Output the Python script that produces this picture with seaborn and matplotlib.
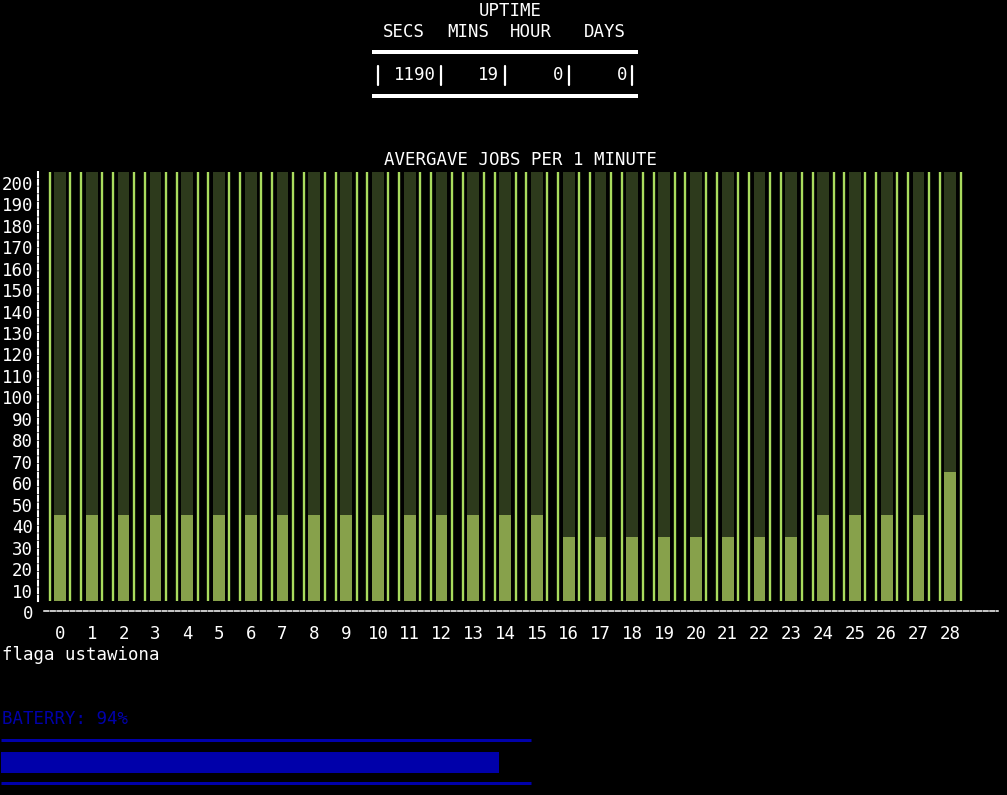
import matplotlib
matplotlib.use("Agg")
import matplotlib.pyplot as plt
import seaborn as sns
import pandas as pd
from matplotlib.lines import Line2D

W, H = 1007, 795

# --- data ---
MINUTES = [str(i) for i in range(29)]
JOBS = [45, 45, 45, 45, 45, 45, 45, 45, 45, 45, 45, 45, 45, 45, 45, 45,
        35, 35, 35, 35, 35, 35, 35, 35,
        45, 45, 45, 45, 65]
Y_TICKS = list(range(0, 201, 10))
BAR_BASE = 5
BAR_CEIL = 205

UPTIME_HEADERS = ["SECS", "MINS", "HOUR", "DAYS"]
UPTIME_VALUES = [1190, 19, 0, 0]
BATTERY = 94
FLAG_TEXT = "flaga ustawiona"

DARK = "#2d3a1c"
LIGHT = "#87a14b"
LIME = "#a9db5e"
BLUE = "#0000aa"
FS = 12.5

sns.set_theme(style="ticks", rc={
    "axes.facecolor": "black",
    "figure.facecolor": "black",
    "text.color": "white",
    "xtick.color": "white",
    "ytick.color": "white",
    "axes.edgecolor": "white",
})
plt.rcParams["font.family"] = ["DejaVu Sans Mono"]


def fx(x):
    return x / W


def fy(y):
    return 1 - y / H


def hline(x0, x1, y, color, lw):
    fig.add_artist(Line2D([fx(x0), fx(x1)], [fy(y), fy(y)], color=color,
                          lw=lw * 0.72, transform=fig.transFigure,
                          solid_capstyle="butt"))


fig = plt.figure(figsize=(W / 100, H / 100), dpi=100)

# --- uptime block ---
fig.text(fx(510), fy(11), "UPTIME", ha="center", va="center", fontsize=FS)
for name, cx in zip(UPTIME_HEADERS, [404, 468, 531, 605]):
    fig.text(fx(cx), fy(32), name, ha="center", va="center", fontsize=FS)
hline(372, 638, 52, "white", 4)
hline(372, 638, 96, "white", 4)
for bx in [378, 441, 505, 569, 632]:
    fig.add_artist(Line2D([fx(bx), fx(bx)], [fy(66), fy(85)], color="white",
                          lw=1.6, transform=fig.transFigure))
for val, rx in zip(UPTIME_VALUES, [436, 499, 563, 627]):
    fig.text(fx(rx), fy(75), str(val), ha="right", va="center", fontsize=FS)

# --- jobs chart ---
ax = fig.add_axes([fx(38), fy(612), (998 - 38) / W, (612 - 172) / H])
df = pd.DataFrame({"minute": MINUTES, "jobs": JOBS})
df["bg"] = BAR_CEIL - BAR_BASE
df["fg"] = df["jobs"] - BAR_BASE

sns.barplot(data=df, x="minute", y="bg", color=DARK, saturation=1,
            width=0.37, linewidth=0, errorbar=None, bottom=BAR_BASE, ax=ax)
sns.barplot(data=df, x="minute", y="fg", color=LIGHT, saturation=1,
            width=0.37, linewidth=0, errorbar=None, bottom=BAR_BASE, ax=ax)

pos = list(range(len(MINUTES)))
ax.vlines([p - 0.33 for p in pos] + [p + 0.33 for p in pos],
          BAR_BASE, BAR_CEIL, color=LIME, lw=1.7)

ax.set_xlim(-0.692, 29.5)
ax.set_ylim(0, BAR_CEIL)
ax.set_yticks(Y_TICKS)
ax.set_yticklabels([str(t) for t in Y_TICKS])
ax.set_xlabel("")
ax.set_ylabel("")
ax.tick_params(axis="y", length=0, pad=3.6, labelsize=FS, colors="white")
ax.tick_params(axis="x", length=0, pad=10, labelsize=FS, colors="white")

for side in ["top", "right"]:
    ax.spines[side].set_visible(False)
# dashed y axis, dotted x axis like the terminal screen
ax.spines["left"].set_bounds(BAR_BASE, BAR_CEIL)
ax.spines["left"].set_linestyle((0, (2.4, 1.3)))
ax.spines["left"].set_linewidth(1.5)
ax.spines["bottom"].set_position(("data", 0.5))
ax.spines["bottom"].set_bounds(-0.5, 29.5)
ax.spines["bottom"].set_linestyle((0, (3.0, 1.3)))
ax.spines["bottom"].set_linewidth(1.1)

fig.text(fx(520), fy(160), "AVERGAVE JOBS PER 1 MINUTE", ha="center",
         va="center", fontsize=FS)

fig.text(fx(2), fy(655), FLAG_TEXT, ha="left", va="center", fontsize=FS)

# --- battery ---
fig.text(fx(2), fy(719), f"BATERRY: {BATTERY}%", ha="left", va="center",
         fontsize=FS, color=BLUE)
hline(1, 531, 740, BLUE, 3)
hline(1, 531, 783, BLUE, 3)

bax = fig.add_axes([fx(1), fy(773), 530 / W, 21 / H])
bdf = pd.DataFrame({"level": [BATTERY], "name": ["battery"]})
sns.barplot(data=bdf, x="level", y="name", orient="h", color=BLUE,
            saturation=1, width=1, linewidth=0, errorbar=None, ax=bax)
bax.set_xlim(0, 100)
bax.set_ylim(0.5, -0.5)
bax.axis("off")

fig.savefig("out.png", dpi=100, facecolor="black")
